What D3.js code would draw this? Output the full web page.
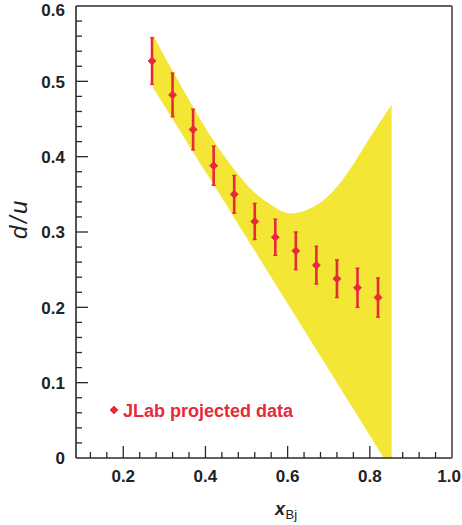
<!DOCTYPE html>
<html>
<head>
<meta charset="utf-8">
<script src="https://cdn.jsdelivr.net/npm/d3@7"></script>
<style>
  html, body { margin: 0; padding: 0; background: #ffffff; }
  svg { display: block; }
  text { font-family: "Liberation Sans", Arial, Helvetica, sans-serif; }
</style>
</head>
<body>
<div id="chart"></div>
<script>
// ---------------- data ----------------
const xBj = [0.27, 0.32, 0.37, 0.42, 0.47, 0.52, 0.57, 0.62, 0.67, 0.72, 0.77, 0.82];
const dOverU = [0.527, 0.482, 0.436, 0.388, 0.350, 0.314, 0.293, 0.275, 0.256, 0.238, 0.226, 0.213];
const dOverUErr = [0.031, 0.029, 0.027, 0.026, 0.025, 0.024, 0.024, 0.025, 0.025, 0.025, 0.026, 0.026];

const bandX = [0.273, 0.32, 0.37, 0.42, 0.47, 0.52, 0.56, 0.60, 0.64, 0.68, 0.72, 0.76, 0.80, 0.853];
const bandUpper = [0.561, 0.514, 0.466, 0.421, 0.383, 0.352, 0.336, 0.325, 0.328, 0.339, 0.360, 0.390, 0.425, 0.469];
const bandLower = [0.491, 0.450, 0.406, 0.363, 0.319, 0.275, 0.240, 0.205, 0.170, 0.135, 0.100, 0.065, 0.030, -0.016];

const xMajorTicks = [0.2, 0.4, 0.6, 0.8, 1.0];
const xTickLabels = ["0.2", "0.4", "0.6", "0.8", "1.0"];
const yMajorTicks = [0, 0.1, 0.2, 0.3, 0.4, 0.5, 0.6];
const yTickLabels = ["0", "0.1", "0.2", "0.3", "0.4", "0.5", "0.6"];
const legendLabel = "JLab projected data";

// ---------------- layout ----------------
const W = 462, H = 525;
const m = { left: 76, top: 6, right: 10, bottom: 67 };
const RED = "#e62a3a", YELLOW = "#f3e634", AXIS = "#2a2a2a";

const svg = d3.select("#chart").append("svg").attr("width", W).attr("height", H);

const x = d3.scaleLinear().domain([0.085, 1.0]).range([m.left, W - m.right]);
const y = d3.scaleLinear().domain([0, 0.6]).range([H - m.bottom, m.top]);

const x0 = x.range()[0], x1 = x.range()[1];
const yb = y.range()[0], yt = y.range()[1];

svg.append("defs").append("clipPath").attr("id", "plotclip")
  .append("rect").attr("x", x0).attr("y", yt).attr("width", x1 - x0).attr("height", yb - yt);

// ---------------- ticks ----------------
const xMinor = d3.range(3, 26).map(i => +(i * 0.04).toFixed(2)).filter(v => v > 0.085 && v < 1.0);
const yMinor = d3.range(1, 30).map(i => +(i * 0.02).toFixed(2));

const tg = svg.append("g").attr("stroke", AXIS).attr("stroke-width", 1.3);
xMinor.forEach(v => {
  const isMajor = xMajorTicks.some(t => Math.abs(t - v) < 1e-6);
  tg.append("line").attr("x1", x(v)).attr("x2", x(v)).attr("y1", yb).attr("y2", yb - (isMajor ? 12 : 6));
});
yMinor.forEach(v => {
  const isMajor = yMajorTicks.some(t => Math.abs(t - v) < 1e-6);
  tg.append("line").attr("y1", y(v)).attr("y2", y(v)).attr("x1", x0).attr("x2", x0 + (isMajor ? 12 : 6));
});

// ---------------- band ----------------
const bandData = bandX.map((v, i) => ({ x: v, lo: bandLower[i], hi: bandUpper[i] }));
const area = d3.area()
  .x(d => x(d.x))
  .y0(d => y(d.lo))
  .y1(d => y(d.hi))
  .curve(d3.curveCatmullRom.alpha(0.5));
svg.append("path").datum(bandData)
  .attr("clip-path", "url(#plotclip)")
  .attr("d", area)
  .attr("fill", YELLOW)
  .attr("stroke", "none");

// ---------------- frame ----------------
svg.append("line").attr("x1", x0).attr("x2", x1).attr("y1", yb).attr("y2", yb)
  .attr("stroke", AXIS).attr("stroke-width", 1.6);
svg.append("line").attr("x1", x0).attr("x2", x0).attr("y1", yt).attr("y2", yb)
  .attr("stroke", AXIS).attr("stroke-width", 1.6);
svg.append("line").attr("x1", x0).attr("x2", x1).attr("y1", yt).attr("y2", yt)
  .attr("stroke", AXIS).attr("stroke-width", 1.4);
svg.append("line").attr("x1", x1).attr("x2", x1).attr("y1", yt).attr("y2", yb)
  .attr("stroke", "#6a6a6a").attr("stroke-width", 2);

// ---------------- tick labels ----------------
svg.append("g").selectAll("text").data(xMajorTicks).join("text")
  .attr("x", d => d === 1.0 ? W - 1 : x(d)).attr("y", yb + 24)
  .attr("text-anchor", d => d === 1.0 ? "end" : "middle")
  .attr("font-size", 17).attr("font-weight", "bold").attr("fill", "#222")
  .text((d, i) => xTickLabels[i]);

svg.append("g").selectAll("text").data(yMajorTicks).join("text")
  .attr("x", x0 - 11)
  .attr("y", d => y(d) + (d === 0.6 ? 10 : 6.2))
  .attr("text-anchor", "end")
  .attr("font-size", 17).attr("font-weight", "bold").attr("fill", "#222")
  .text((d, i) => yTickLabels[i]);

// ---------------- axis titles ----------------
const xt = svg.append("text").attr("x", 275).attr("y", 515).attr("fill", "#222");
xt.append("tspan").attr("font-size", 18).attr("font-weight", "bold").attr("font-style", "italic").text("x");
xt.append("tspan").attr("font-size", 13).attr("dy", 4).attr("dx", 0.5).text("Bj");

svg.append("text")
  .attr("transform", "translate(27,218.5) rotate(-90)")
  .attr("text-anchor", "middle")
  .attr("font-size", 24).attr("font-style", "italic").attr("fill", "#222")
  .attr("letter-spacing", 2.5)
  .text("d/u");

// ---------------- data points ----------------
const pts = xBj.map((v, i) => ({ x: v, y: dOverU[i], e: dOverUErr[i] }));
const pg = svg.append("g");
pg.selectAll("line.bar").data(pts).join("line").attr("class", "bar")
  .attr("x1", d => x(d.x)).attr("x2", d => x(d.x))
  .attr("y1", d => y(d.y - d.e)).attr("y2", d => y(d.y + d.e))
  .attr("stroke", RED).attr("stroke-width", 2.6);
pg.selectAll("line.capt").data(pts).join("line").attr("class", "capt")
  .attr("x1", d => x(d.x) - 2).attr("x2", d => x(d.x) + 2)
  .attr("y1", d => y(d.y + d.e)).attr("y2", d => y(d.y + d.e))
  .attr("stroke", RED).attr("stroke-width", 1.4);
pg.selectAll("line.capb").data(pts).join("line").attr("class", "capb")
  .attr("x1", d => x(d.x) - 2).attr("x2", d => x(d.x) + 2)
  .attr("y1", d => y(d.y - d.e)).attr("y2", d => y(d.y - d.e))
  .attr("stroke", RED).attr("stroke-width", 1.4);

const diamond = (cx, cy, r) => `M${cx},${cy - r}L${cx + r},${cy}L${cx},${cy + r}L${cx - r},${cy}Z`;
pg.selectAll("path.mk").data(pts).join("path").attr("class", "mk")
  .attr("d", d => diamond(x(d.x), y(d.y), 4))
  .attr("fill", RED).attr("stroke", RED).attr("stroke-width", 0.8).attr("stroke-linejoin", "round");

// ---------------- legend ----------------
svg.append("path").attr("d", diamond(114, 410, 4))
  .attr("fill", RED).attr("stroke", RED).attr("stroke-width", 0.8).attr("stroke-linejoin", "round");
svg.append("text").attr("x", 123).attr("y", 416.5)
  .attr("font-size", 18).attr("font-weight", "bold").attr("fill", RED)
  .text(legendLabel);
</script>
</body>
</html>
